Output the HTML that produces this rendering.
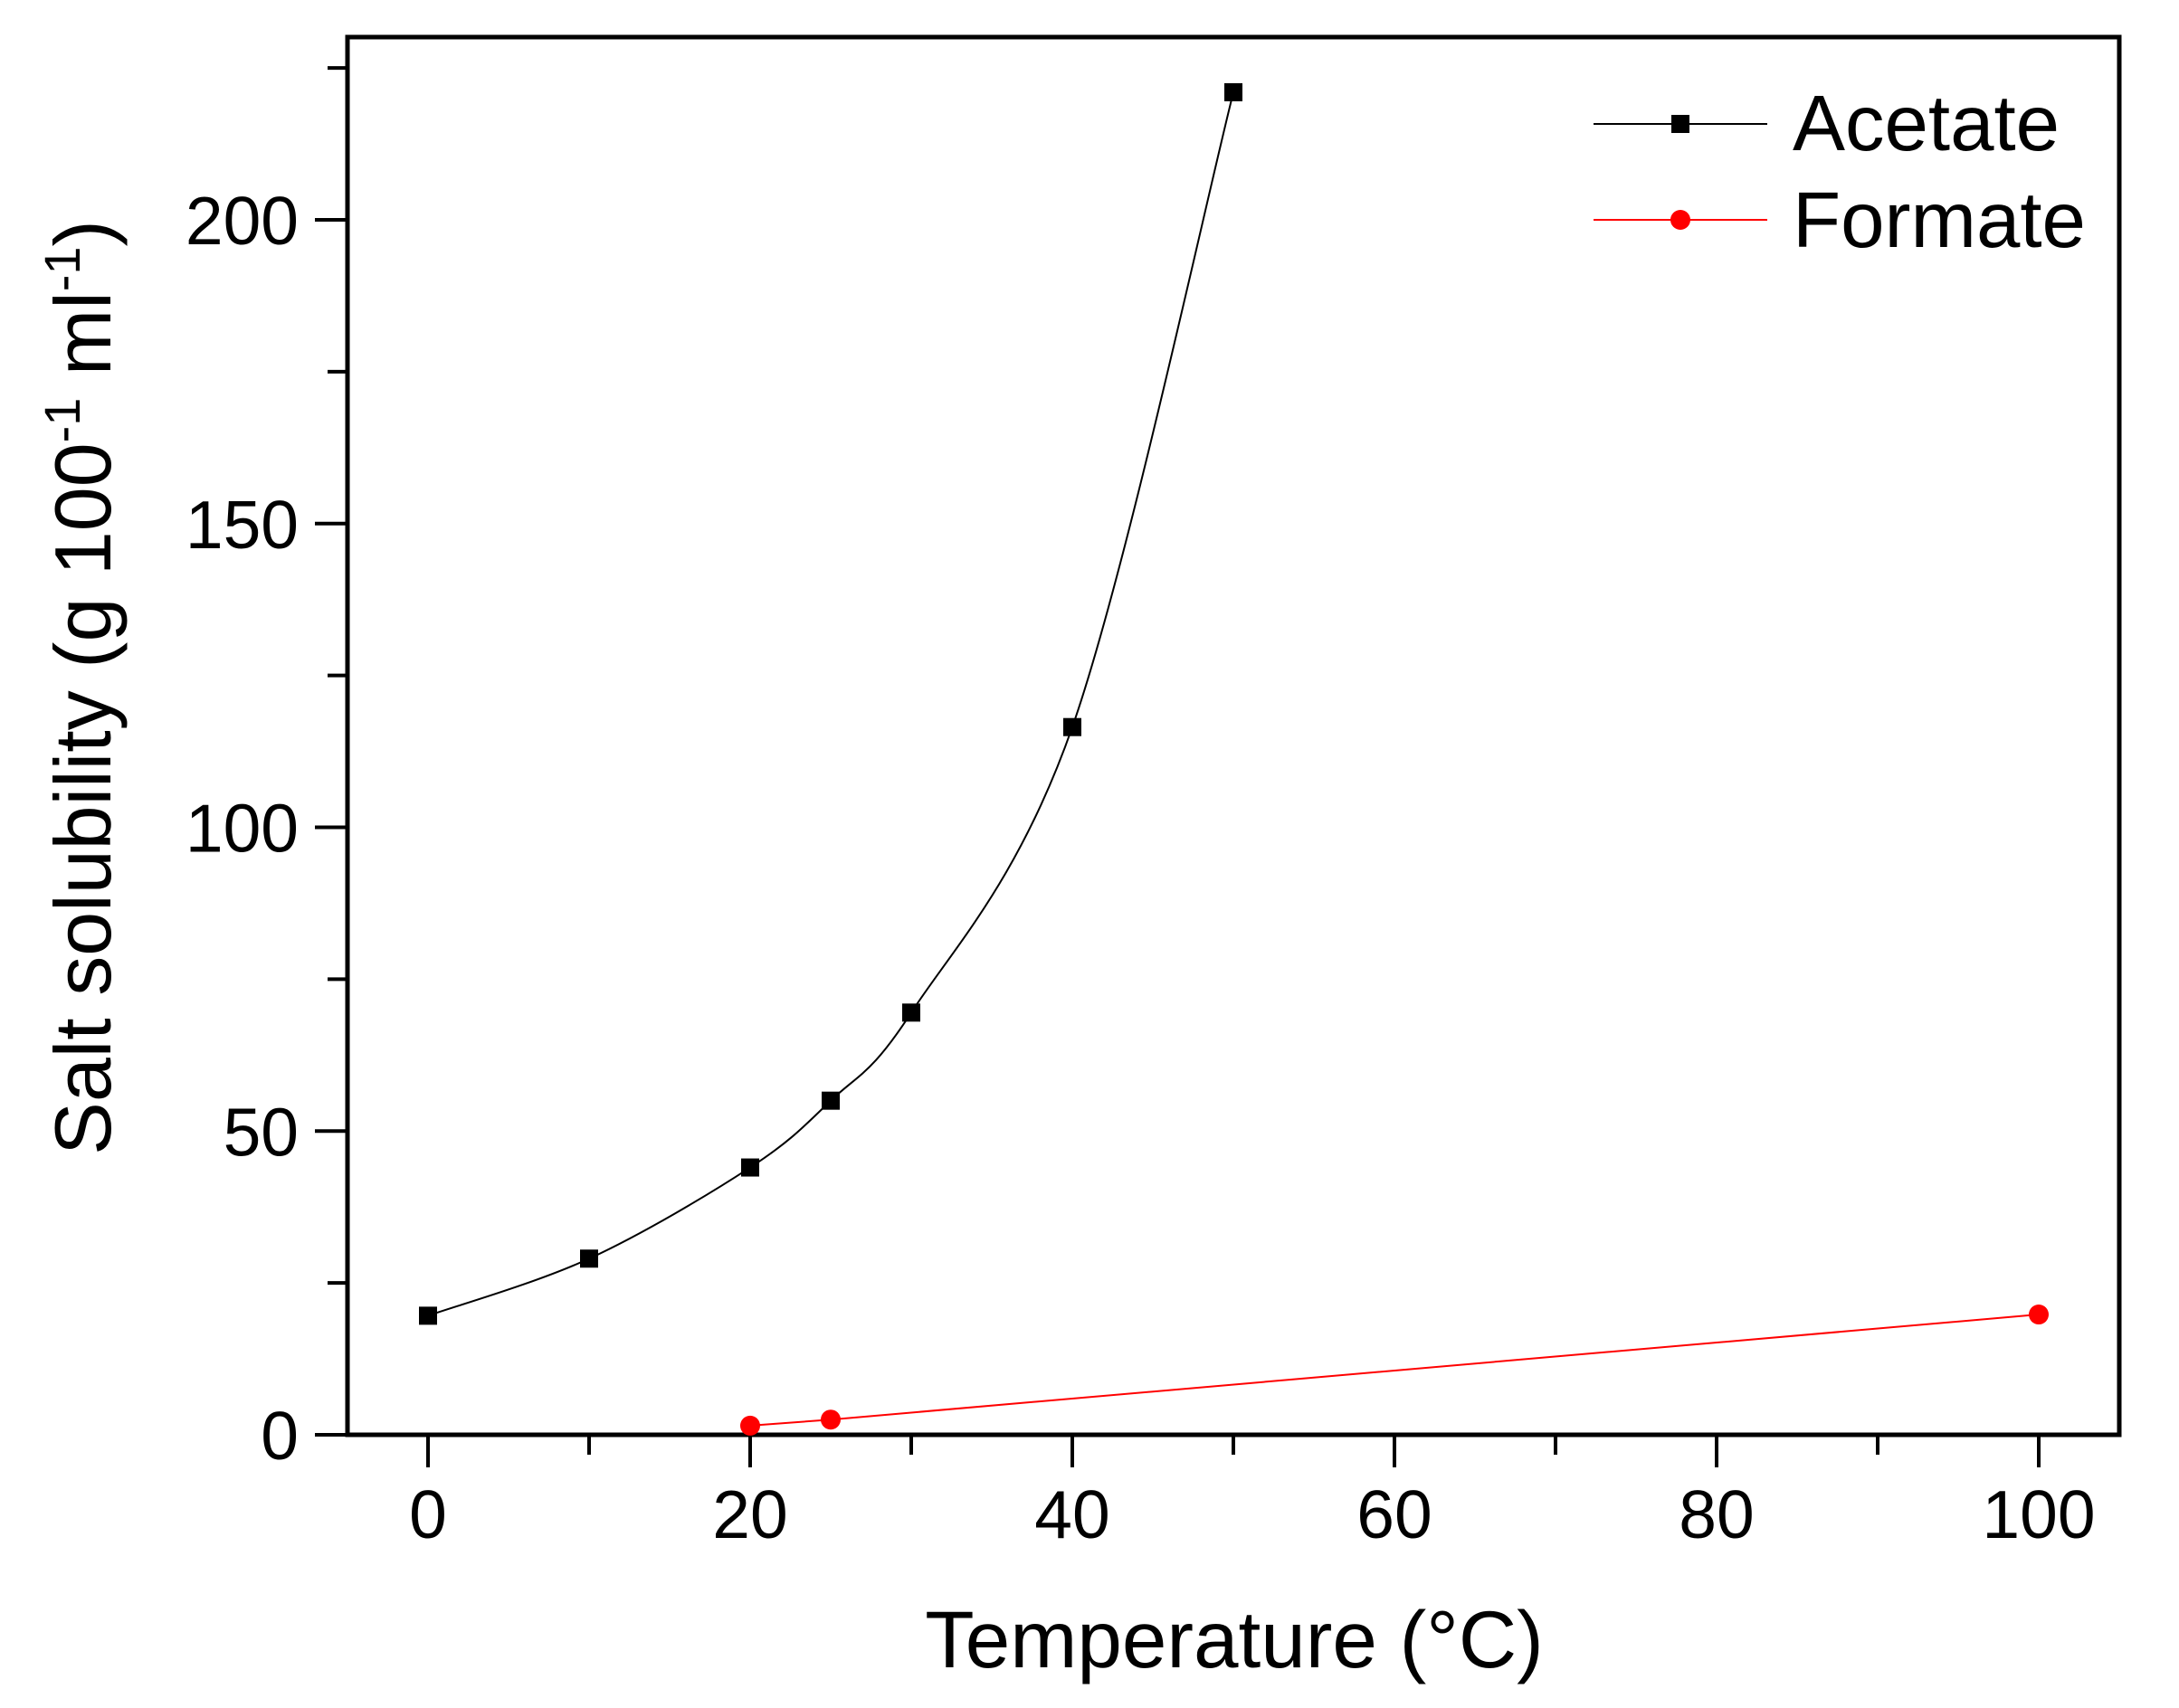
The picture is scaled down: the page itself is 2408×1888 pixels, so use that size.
<!DOCTYPE html>
<html><head><meta charset="utf-8"><style>
html,body{margin:0;padding:0;background:#fff}
svg{display:block}
text{font-family:"Liberation Sans",Arial,sans-serif;fill:#000}
</style></head><body>
<svg id="chart" width="2408" height="1888" viewBox="0 0 2408 1888">
<g id="axes"></g>
<g id="series"></g>
<text x="1364" y="1843" font-size="89" text-anchor="middle">Temperature (°C)</text>
<text transform="translate(122,760) rotate(-90)" font-size="88" text-anchor="middle">Salt solubility (g 100<tspan font-size="56" dy="-34">-1</tspan><tspan dy="34"> ml</tspan><tspan font-size="56" dy="-34">-1</tspan><tspan dy="34">)</tspan></text>
<g>
<line x1="1761" y1="137" x2="1953" y2="137" stroke="#000" stroke-width="2"/>
<rect x="1847" y="127" width="20" height="20" fill="#000"/>
<text x="1981" y="166" font-size="87">Acetate</text>
<line x1="1761" y1="243" x2="1953" y2="243" stroke="#f00" stroke-width="2"/>
<circle cx="1857" cy="243" r="11" fill="#f00"/>
<text x="1981" y="273" font-size="87">Formate</text>
</g>
</svg>
<script>
const acetateX=[0,10,20,25,30,40,50];
const acetateY=[19.6,29,44,55,69.5,116.5,221];
const formateX=[20,25,100];
const formateY=[1.5,2.5,19.8];
const xTicks=[0,20,40,60,80,100];
const yTicks=[0,50,100,150,200];
const NS="http://www.w3.org/2000/svg";
const L=384,R=2342,T=41,B=1586;
function sx(v){return 473+v*(2253-473)/100;}
function sy(v){return 1586-v*(1586-243)/200;}
function mk(tag,attrs,parent){const e=document.createElementNS(NS,tag);for(const k in attrs)e.setAttribute(k,attrs[k]);parent.appendChild(e);return e;}
const ax=document.getElementById('axes');
const frame=mk('rect',{x:L,y:T,width:R-L,height:B-T,fill:'none',stroke:'#000','stroke-width':5},ax);


for(let v=0;v<=100;v+=10){
  const major=xTicks.includes(v);
  const t=mk('line',{x1:sx(v),x2:sx(v),y1:B,y2:B+(major?36:22),stroke:'#000','stroke-width':4},ax);
  
  
}
xTicks.forEach(v=>{
  const t=mk('text',{x:sx(v),y:1700,'font-size':75,'text-anchor':'middle'},ax);
  t.textContent=v;
  
  
});
for(let v=0;v<=225;v+=25){
  const major=yTicks.includes(v);
  const t=mk('line',{x1:L,x2:L-(major?36:22),y1:sy(v),y2:sy(v),stroke:'#000','stroke-width':4},ax);
  
  
}
yTicks.forEach(v=>{
  const t=mk('text',{x:330,y:sy(v)+27,'font-size':75,'text-anchor':'end'},ax);
  t.textContent=v;
  
  
});
const sg=document.getElementById('series');
function spline(xs,ys){
  const p=xs.map((x,i)=>[sx(x),sy(ys[i])]);
  let d='M'+p[0][0]+','+p[0][1];
  for(let i=0;i<p.length-1;i++){
    const p0=p[Math.max(0,i-1)],p1=p[i],p2=p[i+1],p3=p[Math.min(p.length-1,i+2)];
    const k=1/6;
    d+=' C'+(p1[0]+(p2[0]-p0[0])*k)+','+(p1[1]+(p2[1]-p0[1])*k)+' '+(p2[0]-(p3[0]-p1[0])*k)+','+(p2[1]-(p3[1]-p1[1])*k)+' '+p2[0]+','+p2[1];
  }
  return d;
}
const acetatePath=mk('path',{d:spline(acetateX,acetateY),fill:'none',stroke:'#000','stroke-width':2},sg);


const formatePath=mk('polyline',{points:formateX.map((x,i)=>sx(x)+','+sy(formateY[i])).join(' '),fill:'none',stroke:'#f00','stroke-width':2},sg);


acetateX.forEach((x,i)=>{
  const r=mk('rect',{x:sx(x)-10,y:sy(acetateY[i])-10,width:20,height:20,fill:'#000'},sg);
  
  
});
formateX.forEach((x,i)=>{
  const c=mk('circle',{cx:sx(x),cy:sy(formateY[i]),r:11,fill:'#f00'},sg);
  
  
});
</script>
</body></html>
